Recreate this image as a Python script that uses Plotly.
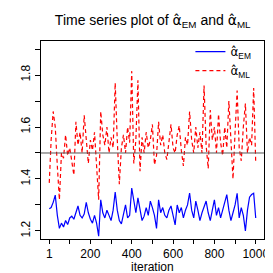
import plotly.graph_objects as go

# iteration index (every 10th iteration)
iterations = [1] + list(range(10, 1001, 10))

alpha_em = [1.285, 1.29, 1.31, 1.338, 1.26, 1.21, 1.23, 1.215, 1.24, 1.225,
            1.25, 1.257, 1.245, 1.27, 1.296, 1.26, 1.25, 1.265, 1.31, 1.27,
            1.245, 1.23, 1.26, 1.23, 1.18, 1.32, 1.27, 1.25, 1.28, 1.26,
            1.24, 1.28, 1.35, 1.28, 1.24, 1.227, 1.27, 1.30, 1.25, 1.26,
            1.365, 1.32, 1.27, 1.327, 1.28, 1.24, 1.257, 1.29, 1.26, 1.315,
            1.29, 1.26, 1.21, 1.32, 1.27, 1.29, 1.26, 1.25, 1.28, 1.296,
            1.26, 1.223, 1.30, 1.27, 1.29, 1.25, 1.28, 1.30, 1.346, 1.28,
            1.25, 1.315, 1.28, 1.24, 1.27, 1.29, 1.315, 1.27, 1.24, 1.28,
            1.32, 1.26, 1.29, 1.25, 1.28, 1.30, 1.34, 1.28, 1.24, 1.27,
            1.30, 1.345, 1.25, 1.29, 1.26, 1.20, 1.28, 1.33, 1.34, 1.345,
            1.25]

alpha_ml = [1.385, 1.55, 1.66, 1.60, 1.45, 1.32, 1.50, 1.48, 1.57, 1.49,
            1.52, 1.46, 1.415, 1.62, 1.53, 1.58, 1.50, 1.645, 1.56, 1.46,
            1.55, 1.51, 1.58, 1.47, 1.32, 1.66, 1.57, 1.53, 1.60, 1.50,
            1.56, 1.52, 1.77, 1.55, 1.38, 1.52, 1.57, 1.50, 1.60, 1.54,
            1.815, 1.46, 1.55, 1.78, 1.43, 1.56, 1.50, 1.58, 1.52, 1.55,
            1.61, 1.455, 1.49, 1.62, 1.53, 1.57, 1.50, 1.475, 1.55, 1.61,
            1.52, 1.50, 1.57, 1.605, 1.51, 1.45, 1.56, 1.53, 1.66, 1.55,
            1.50, 1.60, 1.52, 1.58, 1.50, 1.76, 1.53, 1.44, 1.665, 1.55,
            1.60, 1.50, 1.65, 1.54, 1.49, 1.60, 1.52, 1.70, 1.55, 1.40,
            1.58, 1.74, 1.52, 1.47, 1.60, 1.69, 1.50, 1.56, 1.53, 1.75,
            1.46]

reference_level = 1.5

x_tick_vals = [1, 100, 200, 300, 400, 500, 600, 700, 800, 900, 1000]
x_tick_text = ["1", "", "200", "", "400", "", "600", "", "800", "", "1000"]
y_tick_vals = [1.2, 1.3, 1.4, 1.5, 1.6, 1.7, 1.8, 1.9]
y_tick_text = ["1.2", "", "1.4", "", "1.6", "", "1.8", ""]

FONT = "Liberation Sans, Arial, Helvetica, sans-serif"
HAT_A = '<span style="font-family:DejaVu Sans">\u03b1\u0302</span>'

fig = go.Figure()
fig.add_trace(go.Scatter(x=iterations, y=alpha_em, mode="lines",
                         line=dict(color="#0000FF", width=1.2),
                         name=HAT_A + "<sub>EM</sub>"))
fig.add_trace(go.Scatter(x=iterations, y=alpha_ml, mode="lines",
                         line=dict(color="#FF0000", width=1.2, dash="4px,3px"),
                         name=HAT_A + "<sub>ML</sub>"))
fig.add_hline(y=reference_level, line=dict(color="#555555", width=1))

fig.add_annotation(text="iteration", xref="paper", yref="paper",
                   x=0.5, y=-0.14, xanchor="center", yanchor="middle",
                   showarrow=False, font=dict(size=12))

fig.update_layout(
    width=273, height=273,
    margin=dict(l=33, r=17, t=33, b=42, autoexpand=False),
    paper_bgcolor="white", plot_bgcolor="white",
    font=dict(family=FONT, size=12, color="black"),
    title=dict(text="Time series plot of " + HAT_A + "<sub>EM</sub> and " + HAT_A + "<sub>ML</sub>",
               x=0.53, xanchor="center", y=0.955, yanchor="middle",
               font=dict(size=14)),
    showlegend=True,
    legend=dict(x=0.67, y=1.02, xanchor="left", yanchor="top",
                bgcolor="rgba(0,0,0,0)", font=dict(size=12),
                tracegroupgap=0),
    xaxis=dict(range=[-39, 1040], tickvals=x_tick_vals, ticktext=x_tick_text,
               ticks="outside", ticklen=4, tickcolor="black", automargin=False,
               showline=True, linecolor="black", linewidth=1, mirror=True,
               showgrid=False, zeroline=False),
    yaxis=dict(range=[1.169, 1.931], tickvals=y_tick_vals, ticktext=y_tick_text,
               ticks="outside", ticklen=5, tickcolor="black", tickangle=-90,
               automargin=False,
               showline=True, linecolor="black", linewidth=1, mirror=True,
               showgrid=False, zeroline=False),
)

fig.write_html("out.html")
